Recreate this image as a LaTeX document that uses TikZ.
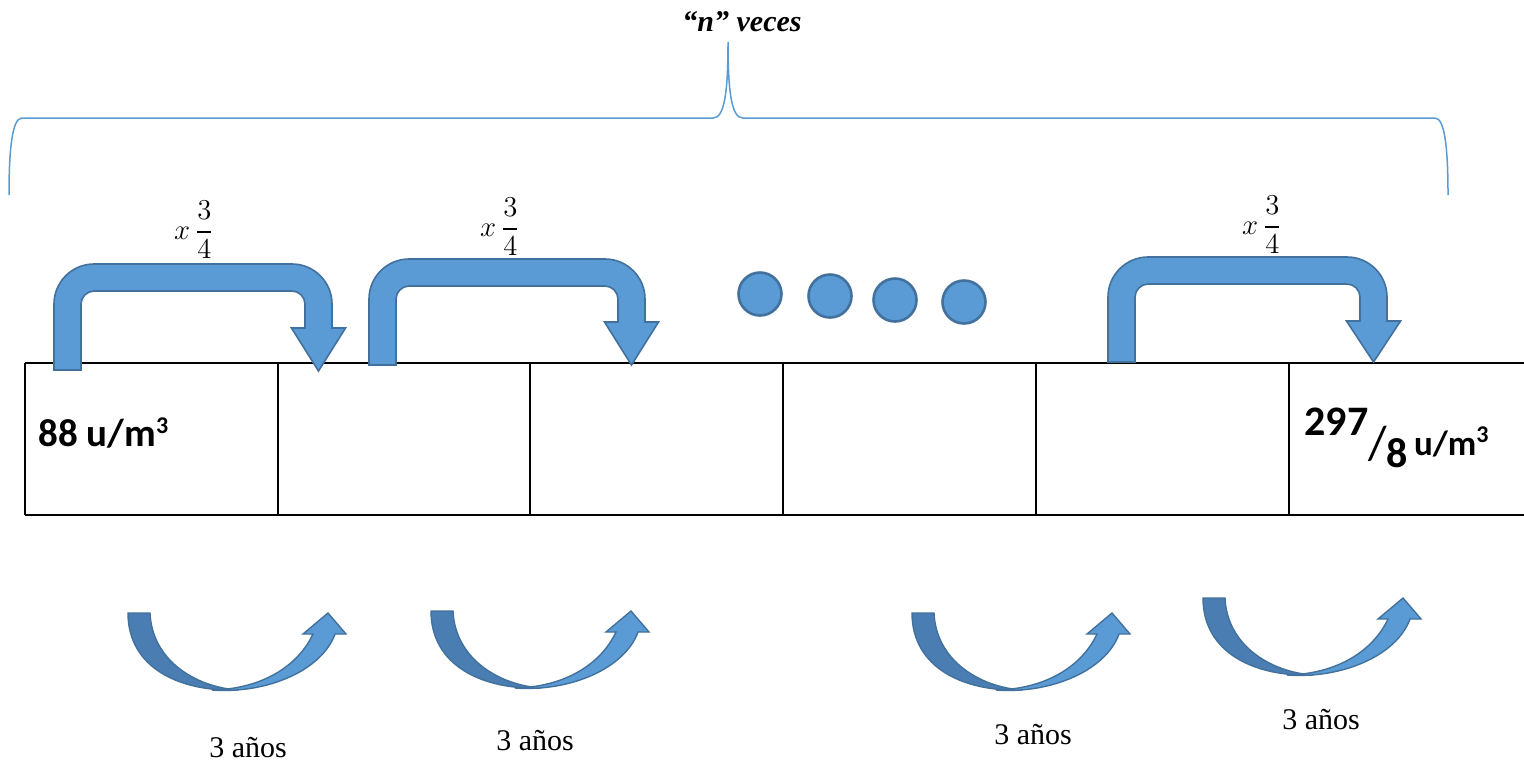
\documentclass[tikz,border=0pt]{standalone}
\usepackage{fontspec}
\usepackage{amsmath}
\setmainfont{Liberation Serif}
\newfontfamily\calib{Carlito}
\definecolor{afill}{HTML}{5B9BD5}
\definecolor{aline}{HTML}{41719C}
\definecolor{adark}{HTML}{4A7DB2}
\tikzset{
  barrow/.style={fill=afill, draw=aline, line width=0.8pt, line join=miter},
  darkpart/.style={fill=adark, draw=aline, line width=0.7pt},
  lightpart/.style={fill=afill, draw=aline, line width=0.7pt},
  dotnode/.style={circle, fill=afill, draw=aline, line width=1.3pt, minimum size=21.5pt, inner sep=0pt},
  cell/.style={rectangle, inner sep=0pt, minimum height=76pt},
  tline/.style={line width=1pt, black},
  bracel/.style={draw=afill, line width=0.75pt},
  yrs/.style={font=\fontsize{15}{18}\selectfont},
  mult/.style={font=\fontsize{15.5}{18}\selectfont},
  val/.style={font=\calib\bfseries\fontsize{19.5}{22}\selectfont, inner sep=0pt}
}
\newcommand\cubesup{\raisebox{6.5pt}{\fontsize{12}{14}\selectfont 3}}
\newcommand\bentarrow[6]{%
\draw[barrow] (#1,#4) -- (#1,{#3+40}) .. controls (#1,{#3+18}) and ({#1+18},#3) .. ({#1+40},#3)
 -- ({#2-40},#3) .. controls ({#2-18},#3) and (#2,{#3+18}) .. (#2,{#3+40})
 -- (#2,#5) -- ({#2+13.5},#5) -- ({#2-13.5},#6) -- ({#2-40.5},#5) -- ({#2-27},#5)
 -- ({#2-27},{#3+40}) .. controls ({#2-27},{#3+33}) and ({#2-33},{#3+27}) .. ({#2-40},{#3+27})
 -- ({#1+40},{#3+27}) .. controls ({#1+33},{#3+27}) and ({#1+27},{#3+33}) .. ({#1+27},{#3+40})
 -- ({#1+27},#4) -- cycle;}
\newcommand\curvarrow[2]{%
\begin{scope}[shift={(#1,#2)}]
\draw[darkpart] (128,613) -- (150,613) .. controls (152,660) and (195,687) .. (238,690)
  .. controls (180,692) and (128,668) .. (128,613) -- cycle;
\draw[lightpart] (212,690) .. controls (268,694) and (322,670) .. (335,634) -- (346,634) -- (328,613)
  -- (303,634) -- (313,634) .. controls (298,666) and (262,689) .. (212,690) -- cycle;
\end{scope}}
\begin{document}
\begin{tikzpicture}[x=0.5pt,y=-0.5pt]
\useasboundingbox (0,0) rectangle (1524,767);
\fill[white] (0,0) rectangle (1524,767);
% brace and label
\draw[bracel] (9,195) .. controls (9,150) and (12,118) .. (22,118) -- (713,118)
  .. controls (724,118) and (728,95) .. (728,42) .. controls (728,95) and (732,118) .. (743,118)
  -- (1435,118) .. controls (1445,118) and (1448,150) .. (1448,195);
\node[font=\bfseries\itshape\fontsize{15}{18}\selectfont] (nv) at (742,22) {“n” veces};
% table cells
\node[cell, minimum width=126.5pt] (c1) at (151.5,439) {};
\node[cell, minimum width=126pt] (c2) at (404,439) {};
\node[cell, minimum width=126.5pt] (c3) at (656.5,439) {};
\node[cell, minimum width=126.5pt] (c4) at (909.5,439) {};
\node[cell, minimum width=126.5pt] (c5) at (1162.5,439) {};
\node[cell, minimum width=117.5pt] (c6) at (1406.5,439) {};
\draw[tline] (c1.north west) -- (c6.north east);
\draw[tline] (c1.south west) -- (c6.south east);
\foreach \c in {c1,c2,c3,c4,c5,c6} \draw[tline] (\c.north west) -- (\c.south west);
\node[val, anchor=base west] (v1) at (38,446) {88 u/m\cubesup};
\node[val, anchor=base west] (v2) at (1304,455) {\raisebox{10pt}{\fontsize{21}{24}\selectfont 297}\raisebox{-2pt}{\fontsize{24}{26}\selectfont\mdseries /}\raisebox{-6pt}{\fontsize{21}{24}\selectfont 8}\hspace{3pt}\fontsize{17.5}{20}\selectfont u/m\cubesup};
% bent arrows
\bentarrow{54}{332}{264}{370}{328}{371}
\bentarrow{369}{645}{259}{365}{322}{365}
\bentarrow{1108}{1387}{257}{362}{321}{362}
\node[mult] (m1) at (194,230) {$x\,\dfrac{3}{4}$};
\node[mult] (m2) at (500,227) {$x\,\dfrac{3}{4}$};
\node[mult] (m3) at (1262,225) {$x\,\dfrac{3}{4}$};
% dots
\node[dotnode] (d1) at (760,294) {};
\node[dotnode] (d2) at (830,296) {};
\node[dotnode] (d3) at (895,300) {};
\node[dotnode] (d4) at (964,302) {};
% curved arrows
\curvarrow{0}{0}
\curvarrow{303}{-2}
\curvarrow{784}{0}
\curvarrow{1075}{-15}
\node[yrs] (y1) at (248,748) {3 años};
\node[yrs] (y2) at (535,741) {3 años};
\node[yrs] (y3) at (1033,735) {3 años};
\node[yrs] (y4) at (1321,720) {3 años};
\end{tikzpicture}
\end{document}
